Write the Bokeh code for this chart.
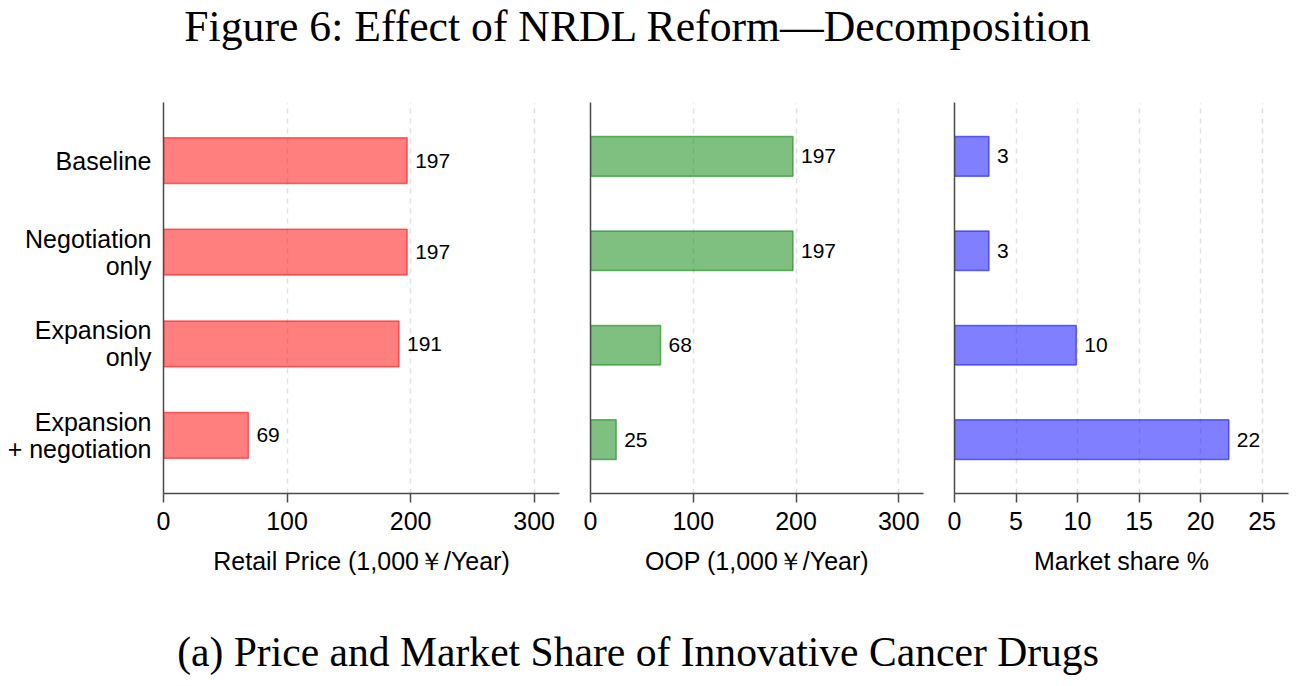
from bokeh.plotting import figure
from bokeh.models import FactorRange, Range1d, FixedTicker, ColumnDataSource, Div
from bokeh.layouts import row, column
from bokeh.embed import file_html
from bokeh.resources import INLINE
from bokeh.core.properties import value

# ---------------- data ----------------
categories = ["Baseline", "Negotiation\nonly", "Expansion\nonly", "Expansion\n+ negotiation"]
retail_price = [197.2, 197.2, 190.6, 68.7]     # 1,000 yen / year
oop_cost = [197.0, 197.0, 68.2, 25.0]          # 1,000 yen / year
market_share = [2.8, 2.8, 9.9, 22.3]           # percent
retail_ticks = [0, 100, 200, 300]
oop_ticks = [0, 100, 200, 300]
share_ticks = [0, 5, 10, 15, 20, 25]

title_text = "Figure 6: Effect of NRDL Reform\u2014Decomposition"
caption_text = "(a) Price and Market Share of Innovative Cancer Drugs"

SANS = "Liberation Sans"
SERIF = "Liberation Serif"
AXIS_COLOR = "#4a4a4a"


def make_panel(vals, ticks, xmax, xlabel, fill, edge, bar_h, pad,
               frame_w, left, right, show_cats):
    src = ColumnDataSource(dict(
        cat=categories,
        val=vals,
        lbl=[f"{v:.0f}" for v in vals],
    ))
    yr = FactorRange(factors=list(reversed(categories)),
                     range_padding=pad, range_padding_units="percent")
    p = figure(y_range=yr, x_range=Range1d(0, xmax),
               frame_width=frame_w, frame_height=391,
               min_border_left=left, min_border_right=right,
               min_border_top=12, min_border_bottom=110,
               output_backend="svg", toolbar_location=None,
               background_fill_color="white", border_fill_color="white")
    p.outline_line_color = None

    p.hbar(y="cat", right="val", left=0, height=bar_h, source=src,
           fill_color=fill, fill_alpha=0.5,
           line_color=edge, line_alpha=0.55, line_width=1.5)
    p.text(x="val", y="cat", text="lbl", source=src, x_offset=8,
           text_baseline="middle", text_align="left",
           text_font=value(SANS), text_font_size="21px", text_color="black")

    tk = FixedTicker(ticks=ticks)
    p.xaxis.ticker = tk
    p.xgrid.ticker = tk
    p.xgrid.grid_line_color = "#e0e0e0"
    p.xgrid.grid_line_dash = "5 5"
    p.xgrid.grid_line_width = 1.5
    p.ygrid.visible = False

    ax = p.xaxis[0]
    ax.axis_line_color = AXIS_COLOR
    ax.axis_line_width = 1.5
    ax.major_tick_line_color = AXIS_COLOR
    ax.major_tick_line_width = 1.5
    ax.major_tick_out = 9
    ax.major_tick_in = 0
    ax.minor_tick_line_color = None
    ax.major_label_standoff = 9
    ax.major_label_text_font = SANS
    ax.major_label_text_font_size = "25px"
    ax.major_label_text_color = "black"
    ax.axis_label = xlabel
    ax.axis_label_text_font = SANS
    ax.axis_label_text_font_size = "25px"
    ax.axis_label_text_font_style = "normal"
    ax.axis_label_text_color = "black"
    ax.axis_label_standoff = 14

    ay = p.yaxis[0]
    ay.axis_line_color = AXIS_COLOR
    ay.axis_line_width = 1.5
    ay.major_tick_line_color = None
    ay.minor_tick_line_color = None
    ay.major_tick_out = 0
    ay.major_tick_in = 0
    if show_cats:
        ay.major_label_standoff = 12
        ay.major_label_text_font = SANS
        ay.major_label_text_font_size = "25px"
        ay.major_label_text_color = "black"
        ay.major_label_text_line_height = 0.95
    else:
        ay.major_label_standoff = 0
        ay.major_label_text_font_size = "0px"
        ay.major_label_text_color = None
    return p


p1 = make_panel(retail_price, retail_ticks, 320.5, "Retail Price (1,000\uffe5/Year)",
                "red", "red", 0.5, 0.0675, 396, 163, 12, True)
p2 = make_panel(oop_cost, oop_ticks, 324.0, "OOP (1,000\uffe5/Year)",
                "green", "green", 0.42, 0.035, 333, 19, 12, False)
p3 = make_panel(market_share, share_ticks, 27.15, "Market share %",
                "blue", "blue", 0.42, 0.035, 334, 19, 6, False)

title = Div(text=(f'<div style="font-family:\'{SERIF}\';font-size:43.7px;line-height:43px;'
                  f'text-align:center;width:1265px;color:black;white-space:nowrap;">{title_text}</div>'),
            width=1265, height=80)
caption = Div(text=(f'<div style="font-family:\'{SERIF}\';font-size:41.6px;line-height:43px;'
                    f'text-align:center;width:1266px;padding-top:23px;color:black;white-space:nowrap;">{caption_text}</div>'),
              width=1266, height=72)

layout = column(title, row(p1, p2, p3), caption)

open("out.html", "w").write(file_html(layout, INLINE))
